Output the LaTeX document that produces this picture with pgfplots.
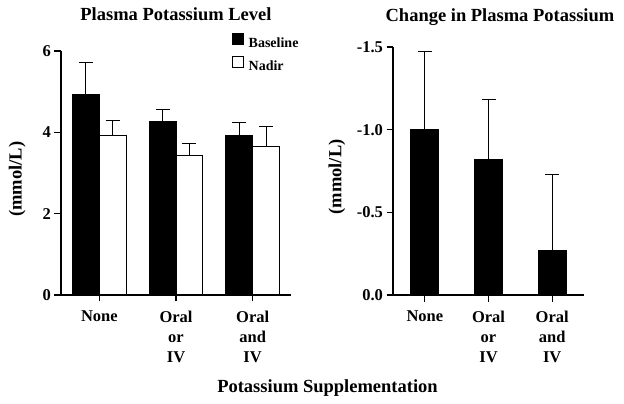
\documentclass[border=0pt]{standalone}
\usepackage{pgfplots}
\pgfplotsset{compat=1.18}
\usepackage{fontspec}
\setmainfont{Liberation Serif}

\newcommand{\tickfont}{\fontsize{16.5}{20}\selectfont\bfseries}
\newcommand{\bigfont}{\fontsize{18.5}{22}\selectfont\bfseries}

\pgfplotsset{
  panel/.style={
    scale only axis,
    anchor=south west,
    axis lines*=left,
    axis line style={line width=1.2pt},
    tick style={line width=1.2pt, black},
    tick align=outside,
    major tick length=6.5pt,
    xmin=0.5, xmax=3.5,
    xtick={1,2,3},
    xticklabels={None, Oral\\or\\IV, Oral\\and\\IV},
    xticklabel style={align=center, font=\tickfont, yshift=-6pt},
    yticklabel style={font=\tickfont},
    /pgf/number format/assume math mode=true,
    title style={font=\bigfont, anchor=base},
    ylabel style={font=\bigfont, anchor=center},
    ylabel={(mmol/L)},
    clip=false,
    error bars/error bar style={line width=1pt, black},
    error bars/error mark options={rotate=90, mark size=7pt, line width=1pt, black},
  },
}

\begin{document}
\begin{tikzpicture}
\useasboundingbox (0,0) rectangle (624pt,404pt);

% left: plasma potassium level
\begin{axis}[panel,
  at={(61pt,109pt)}, width=230pt, height=244pt,
  ymin=0, ymax=6, ytick={0,2,4,6},
  title={Plasma Potassium Level},
  title style={at={(axis description cs:0.5,1)}, yshift=24pt},
  ylabel style={at={(axis description cs:-0.191,0.475)}},
  ybar, bar width=0.35,
  legend style={at={(axis description cs:0.7435,1.074)}, anchor=north west,
    draw=none, fill=none, inner sep=0pt, font=\fontsize{14}{16}\selectfont\bfseries,
    row sep=5pt},
  legend cell align=left,
  legend image code/.code={\draw[#1, line width=1pt] (0pt,-1pt) rectangle (11pt,10pt);
    \path[draw=none, fill=none] (11pt,0pt) -- (14pt,0pt);},
]
\addplot[bar shift=-0.175, fill=black, draw=black, line width=1.2pt,
  error bars/.cd, y dir=plus, y explicit]
  coordinates {(1,4.94) +- (0,0.78) (2,4.27) +- (0,0.30) (3,3.93) +- (0,0.30)};
\addplot[bar shift=0.175, fill=white, draw=black, line width=1.2pt,
  error bars/.cd, y dir=plus, y explicit]
  coordinates {(1,3.93) +- (0,0.37) (2,3.44) +- (0,0.29) (3,3.66) +- (0,0.49)};
\legend{Baseline, Nadir}
\end{axis}

% right: change in plasma potassium
\begin{axis}[panel,
  at={(393pt,109pt)}, width=191pt, height=248pt,
  y dir=reverse,
  ymin=-1.5, ymax=0, ytick={-1.5,-1,-0.5,0},
  yticklabels={-1.5,-1.0,-0.5,0.0},
  title={Change in Plasma Potassium},
  title style={at={(axis description cs:0.56,1)}, yshift=20pt},
  ylabel style={at={(axis description cs:-0.293,0.476)}},
  ybar, bar width=0.44,
]
\addplot[bar shift=0, fill=black, draw=black, line width=1.2pt,
  error bars/.cd, y dir=minus, y explicit]
  coordinates {(1,-1.00) +- (0,0.47) (2,-0.82) +- (0,0.36) (3,-0.27) +- (0,0.46)};
\end{axis}

\node[font=\bigfont, anchor=base] at (327.5pt,11pt) {Potassium Supplementation};
\end{tikzpicture}
\end{document}
